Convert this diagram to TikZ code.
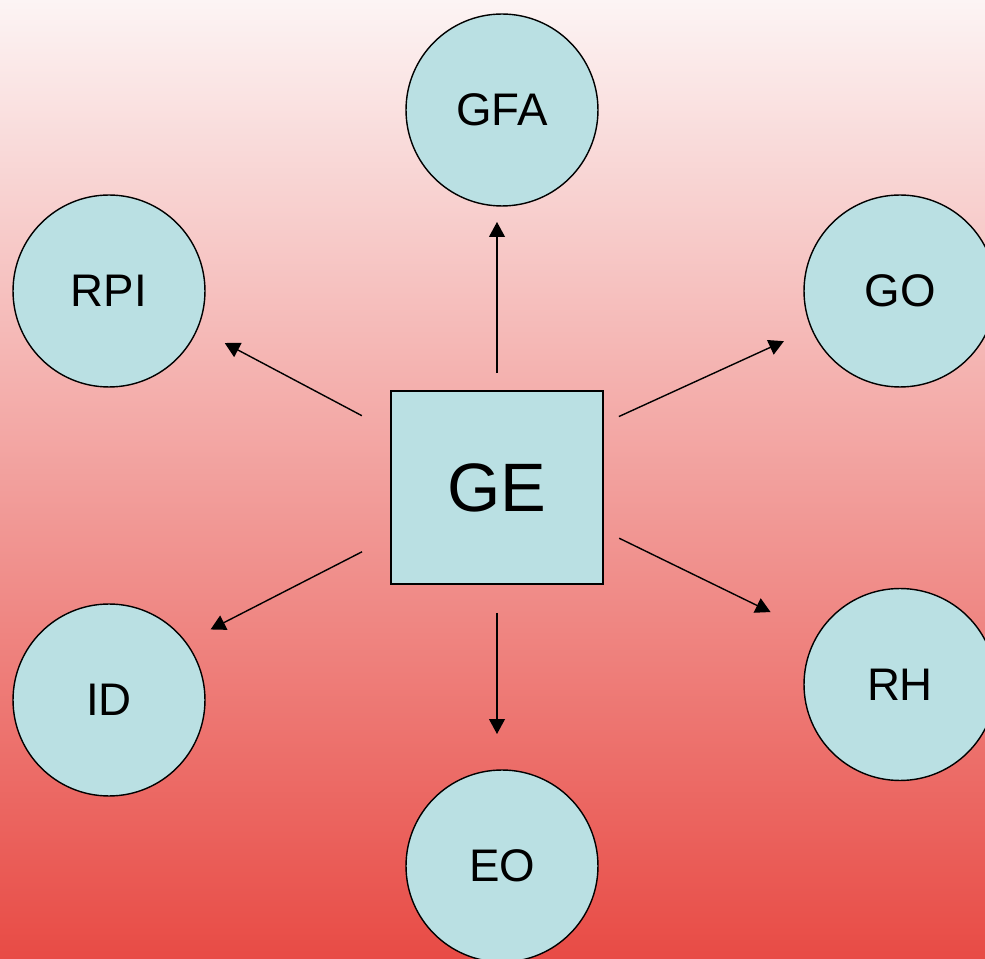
\documentclass[tikz,border=0pt]{standalone}
\usepackage{fontspec}
\setmainfont{Liberation Sans}
\usetikzlibrary{arrows.meta}
\definecolor{bgtop}{HTML}{FCF4F4}
\definecolor{bgbottom}{HTML}{E84B45}
\definecolor{topicfill}{HTML}{BAE0E3}
\begin{document}
\begin{tikzpicture}[x=0.02cm,y=-0.02cm]
            \tikzset{
                topic/.style={circle,draw=black,line width=0.8pt,fill=topicfill,minimum size=3.84cm,inner sep=0pt,outer sep=0pt,font=\fontsize{26}{30}\selectfont},
                hub/.style={rectangle,draw=black,line width=0.8pt,fill=topicfill,minimum width=4.24cm,minimum height=3.86cm,inner sep=0pt,outer sep=0pt,font=\fontsize{39}{45}\selectfont},
                link/.style={-{Triangle[length=8.5pt,width=9pt]},line width=0.8pt,black}
            }
            \useasboundingbox (0,0) rectangle (985,959);
            \shade[top color=bgtop,bottom color=bgbottom] (0,0) rectangle (985,959);

            \node[hub] (ge) at (497,487.5) {GE};

            \node[topic] (gfa) at (502,110) {GFA};
            \node[topic] (rpi) at (109,291) {RPI};
            \node[topic] (go) at (900,291) {GO};
            \node[topic] (id) at (109,700) {ID};
            \node[topic] (rh) at (900,684.5) {RH};
            \node[topic] (eo) at (502,866) {EO};

            \draw[link,shorten <=0.36cm,shorten >=0.32cm] (ge.north) -- (ge.north |- gfa.south);
            \draw[link,shorten <=0.58cm,shorten >=0.72cm] (ge.south) -- (ge.south |- eo.north);
            \foreach \dest/\from/\to/\pre/\post in {rpi/152.8/337.9/0.66/0.62,go/31/203.6/0.35/0.61,id/205.6/37.5/0.65/0.56,rh/338.2/149.6/0.36/1.05}{
                    \draw[link,shorten <=\pre cm,shorten >=\post cm] (ge.\from) -- (\dest.\to);
                }
        \end{tikzpicture}
\end{document}
